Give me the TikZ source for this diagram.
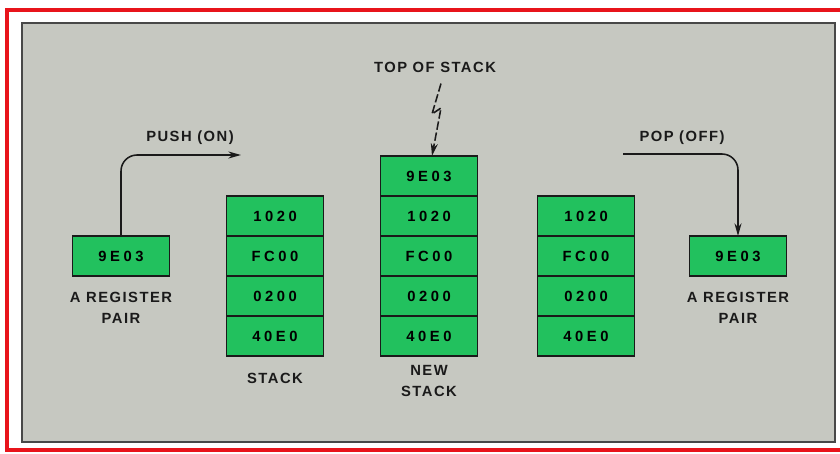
\documentclass[tikz,border=0pt]{standalone}
\usepackage{fontspec}
\setmainfont{Liberation Sans}
\usetikzlibrary{arrows.meta, positioning}
\definecolor{cellgreen}{HTML}{22C15E}
\definecolor{panelgray}{HTML}{C6C8C1}
\definecolor{inkdark}{HTML}{1A1A1A}
\definecolor{framered}{HTML}{E8141B}

\begin{document}
\begin{tikzpicture}[
    x=0.025cm, y=-0.025cm,
    cell/.style={rectangle, draw=inkdark, fill=cellgreen, line width=1.3pt,
                 minimum width=2.425cm, minimum height=1cm, outer sep=0pt,
                 font=\fontsize{10.5}{12}\selectfont\bfseries\addfontfeature{LetterSpace=24}},
    lbl/.style={align=center, text=inkdark, inner sep=0pt,
                font=\fontsize{10.5}{15}\selectfont\bfseries\addfontfeature{LetterSpace=10}},
    arrow/.style={-{Stealth[length=9pt, width=5pt]}, line width=1.1pt, color=inkdark}
]
\useasboundingbox (0,0) rectangle (840,453);

% panel and frame
\fill[panelgray] (22,23) rectangle (835,442);
\draw[inkdark!80, line width=1.5pt] (22,23) rectangle (835,442);
\draw[framered, line width=3pt] (840,10) -- (7,10) -- (7,450) -- (840,450);

% register pair (before)
\node[cell] (regA) at (121,256) {9E03};
\node[lbl, below=0.4cm of regA] (regAlbl) {A REGISTER\\PAIR};

% stack
\node[cell] (s1) at (275,216) {1020};
\node[cell, below=0pt of s1] (s2) {FC00};
\node[cell, below=0pt of s2] (s3) {0200};
\node[cell, below=0pt of s3] (s4) {40E0};
\node[lbl, below=0.42cm of s4] (stacklbl) {STACK};

% new stack
\node[cell] (n0) at (429,176) {9E03};
\node[cell, below=0pt of n0] (n1) {1020};
\node[cell, below=0pt of n1] (n2) {FC00};
\node[cell, below=0pt of n2] (n3) {0200};
\node[cell, below=0pt of n3] (n4) {40E0};
\node[lbl, below=0.22cm of n4] (newlbl) {NEW\\STACK};

% stack after pop
\node[cell] (p1) at (586,216) {1020};
\node[cell, below=0pt of p1] (p2) {FC00};
\node[cell, below=0pt of p2] (p3) {0200};
\node[cell, below=0pt of p3] (p4) {40E0};

% register pair (after)
\node[cell] (regB) at (738,256) {9E03};
\node[lbl, below=0.4cm of regB] (regBlbl) {A REGISTER\\PAIR};

% push
\coordinate (pushend) at (241,155);
\draw[arrow, rounded corners=0.4cm] (regA.north) |- (pushend);
\node[lbl] (pushlbl) at (190,138) {PUSH (ON)};

% pop
\coordinate (popstart) at (623,154);
\draw[arrow, rounded corners=0.4cm] (popstart) -| (regB.north);
\node[lbl] (poplbl) at (682,138) {POP (OFF)};

% top of stack pointer
\node[lbl] (toplbl) at (435,67) {TOP OF STACK};
\coordinate (boltA) at (432,114);
\coordinate (boltB) at (441,108);
\draw[arrow, dash pattern=on 6pt off 2pt] ([shift={(6,11)}]toplbl.south) -- (boltA) -- (boltB)
    -- ([shift={(3,0)}]n0.north);

\end{tikzpicture}
\end{document}
